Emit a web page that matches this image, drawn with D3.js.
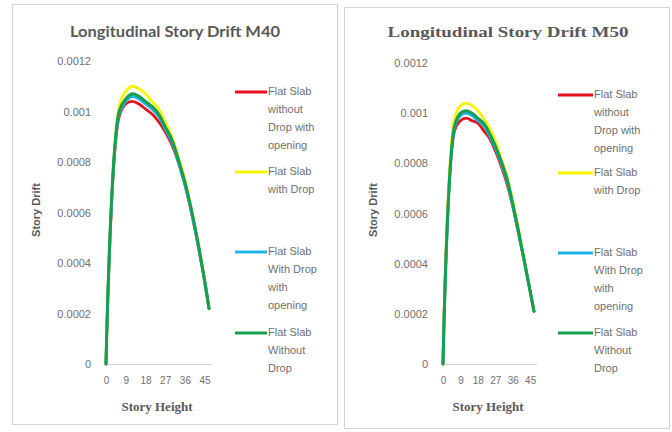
<!DOCTYPE html>
<html><head><meta charset="utf-8">
<script src="https://cdnjs.cloudflare.com/ajax/libs/d3/7.8.5/d3.min.js"></script>
<style>
html,body{margin:0;padding:0;background:#fff;}
svg{display:block;}
</style></head>
<body>
<svg id="chart" width="672" height="432"></svg>
<script>
// ---------- DATA ----------
const storyHeight = [0, 6, 9, 12, 15, 18, 21, 24, 27, 30, 33, 36, 39, 42, 45, 47];
const xTicks = [0, 9, 18, 27, 36, 45];
const yTicks = [0, 0.0002, 0.0004, 0.0006, 0.0008, 0.001, 0.0012];
const yTickLabels = ["0", "0.0002", "0.0004", "0.0006", "0.0008", "0.001", "0.0012"];
const seriesNames = [
  ["Flat Slab", "without", "Drop with", "opening"],
  ["Flat Slab", "with Drop"],
  ["Flat Slab", "With Drop", "with", "opening"],
  ["Flat Slab", "Without", "Drop"]
];
const seriesColors = ["#e8101c", "#f5f500", "#1eb4ea", "#16a04e"];

// M40
const m40Red    = [0, .00098, .00103, .00104, .00103, .00101, .00099, .00096, .00092, .00087, .00080, .00071, .00060, .00047, .00033, .00022];
const m40Yellow = [0, .00102, .00108, .00110, .00109, .00107, .00104, .00101, .00096, .00090, .00082, .00073, .00061, .00048, .00033, .00022];
const m40Blue   = [0, .00099, .00104, .00106, .00105, .00103, .00101, .00098, .00093, .00088, .00080, .00071, .00060, .00047, .00033, .00022];
const m40Green  = [0, .00100, .00105, .00107, .00106, .00104, .00102, .00099, .00094, .00089, .00081, .00072, .00061, .00048, .00033, .00022];
// M50
const m50Red    = [0, .00093, .00097, .00098, .00097, .00096, .00093, .00090, .00085, .00079, .00072, .00063, .00052, .00041, .00029, .00021];
const m50Yellow = [0, .00098, .00103, .00104, .00103, .00101, .00098, .00094, .00089, .00082, .00075, .00065, .00054, .00041, .00029, .00021];
const m50Blue   = [0, .00094, .00099, .00100, .00099, .00097, .00095, .00091, .00086, .00080, .00073, .00063, .00052, .00041, .00029, .00021];
const m50Green  = [0, .00095, .00100, .00101, .00100, .00098, .00096, .00092, .00087, .00081, .00074, .00064, .00053, .00041, .00029, .00021];

// ---------- DRAW ----------
const svg = d3.select("#chart");
const grey = "#595959";

function drawPanel(p) {
  const g = svg.append("g");
  g.append("rect").attr("x", p.box[0]).attr("y", p.box[1])
    .attr("width", p.box[2]).attr("height", p.box[3])
    .attr("fill", "#fff").attr("stroke", "#d4d4d4").attr("stroke-width", 1);

  const x = d3.scaleLinear().domain([0, 47]).range([p.x0, p.x1]);
  const y = d3.scaleLinear().domain([0, 0.0012]).range([364, p.yTop]);

  // title
  g.append("text").attr("x", p.titleX).attr("y", 37)
    .attr("text-anchor", "middle").attr("font-family", p.titleFont)
    .attr("font-weight", "bold").attr("font-size", 15).attr("fill", grey)
    .attr("textLength", p.titleLen).attr("lengthAdjust", "spacingAndGlyphs")
    .text(p.title);

  // y axis
  const ya = g.append("g").attr("transform", `translate(${p.x0},0)`)
    .call(d3.axisLeft(y).tickValues(yTicks).tickSize(0).tickPadding(15)
      .tickFormat((d, i) => yTickLabels[i]));
  ya.select(".domain").remove();
  ya.selectAll("text").attr("font-family", "Liberation Sans, Arial, sans-serif")
    .attr("font-size", 11).attr("fill", "#707070");

  // x axis
  const xa = g.append("g").attr("transform", "translate(0,364)")
    .call(d3.axisBottom(x).tickValues(xTicks).tickSize(0).tickPadding(13));
  xa.select(".domain").remove();
  xa.selectAll("text").attr("font-family", "Liberation Sans, Arial, sans-serif")
    .attr("font-size", p.xFont).attr("fill", "#707070");
  g.append("line").attr("x1", x(0)).attr("x2", p.axisEnd)
    .attr("y1", 364.5).attr("y2", 364.5).attr("stroke", "#d0d0d0").attr("stroke-width", 1);

  // axis titles
  g.append("text").attr("x", p.xTitleX).attr("y", 411).attr("text-anchor", "middle")
    .attr("font-family", "Liberation Serif, Times New Roman, serif").attr("font-weight", "bold")
    .attr("font-size", 13).attr("fill", grey).text("Story Height");
  g.append("text").attr("transform", `translate(${p.yTitleX},210) rotate(-90)`)
    .attr("text-anchor", "middle").attr("dominant-baseline", "middle")
    .attr("font-family", "Liberation Sans, Arial, sans-serif").attr("font-weight", "bold")
    .attr("font-size", 11).attr("fill", grey).text("Story Drift");

  // lines
  const line = d3.line().x((d, i) => x(storyHeight[i])).y(d => y(d)).curve(d3.curveCatmullRom.alpha(0.5));
  p.series.forEach((s, k) => {
    g.append("path").datum(s).attr("d", line).attr("fill", "none")
      .attr("stroke", seriesColors[k]).attr("stroke-width", k === 3 ? 3 : 2.8)
      .attr("stroke-linejoin", "round").attr("stroke-linecap", "round");
  });

  // legend
  seriesNames.forEach((lines, k) => {
    const ly = p.legendY[k];
    g.append("line").attr("x1", p.legX0).attr("x2", p.legX1).attr("y1", ly).attr("y2", ly)
      .attr("stroke", seriesColors[k]).attr("stroke-width", 3);
    lines.forEach((t, j) => {
      g.append("text").attr("x", p.legX1 + 1).attr("y", ly + j * 18)
        .attr("dominant-baseline", "middle")
        .attr("font-family", "Liberation Sans, Arial, sans-serif")
        .attr("font-size", 11).attr("fill", "#707070").text(t);
    });
  });
}

drawPanel({
  box: [12.5, 4.5, 325, 420], x0: 106, x1: 209, yTop: 61, axisEnd: 212,
  title: "Longitudinal Story Drift M40", titleX: 175, titleLen: 210,
  titleFont: "Lato, Open Sans, sans-serif", xFont: 10,
  xTitleX: 157, yTitleX: 37,
  series: [m40Red, m40Yellow, m40Blue, m40Green],
  legendY: [92, 172, 252, 333], legX0: 235, legX1: 267
});
drawPanel({
  box: [344.5, 7.5, 325, 421], x0: 443, x1: 534, yTop: 63, axisEnd: 537,
  title: "Longitudinal Story Drift M50", titleX: 508, titleLen: 241,
  titleFont: "Liberation Serif, Times New Roman, serif", xFont: 10,
  xTitleX: 488, yTitleX: 374,
  series: [m50Red, m50Yellow, m50Blue, m50Green],
  legendY: [95, 173, 253, 333], legX0: 558, legX1: 593
});
</script>
</body></html>
